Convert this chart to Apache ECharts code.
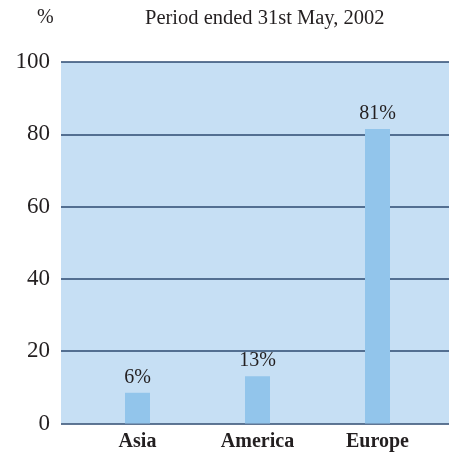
<!DOCTYPE html>
<html>
<head>
<meta charset="utf-8">
<script src="https://cdn.jsdelivr.net/npm/echarts@6/dist/echarts.min.js"></script>
<style>
html, body { margin: 0; padding: 0; background: #fff; }
.box { width: 449px; height: 454px; }
</style>
</head>
<body>
<div class="box"></div>
<script>
// data
var regions = ["Asia", "America", "Europe"];
var barHeights = [8.5, 13.1, 81.5];
var barLabels = ["6%", "13%", "81%"];
var yTicks = [0, 20, 40, 60, 80, 100];

(function () {
    var myChart = echarts.init(document.querySelector(".box"));
    var serif = "Liberation Serif";
    var ink = "#231f20";

    var option = {
        animation: false,
        title: [
            { text: "%", left: 32, top: 3, textStyle: { fontFamily: serif, fontSize: 20, fontWeight: "normal", color: ink } },
            { text: "Period ended 31st May, 2002", left: 140, top: 3, textStyle: { fontFamily: serif, fontSize: 20.5, fontWeight: "normal", color: ink } }
        ],
        grid: [
            // background + gridlines
            { left: 61, right: 0, top: 62, bottom: 30.5, show: true, backgroundColor: "#c6dff4", borderWidth: 0 },
            // bars
            { left: 77.5, width: 360, top: 62, bottom: 30.5 }
        ],
        xAxis: [
            { gridIndex: 0, type: "value", show: false, min: 0, max: 1 },
            {
                gridIndex: 1, type: "category", data: regions,
                axisLine: { show: false }, axisTick: { show: false },
                axisLabel: { fontFamily: serif, fontSize: 20, fontWeight: "bold", color: ink, margin: 8 }
            }
        ],
        yAxis: [
            {
                gridIndex: 0, type: "value", min: yTicks[0], max: yTicks[yTicks.length - 1], interval: 20,
                axisLine: { show: false }, axisTick: { show: false },
                axisLabel: { fontFamily: serif, fontSize: 23, color: ink, margin: 11 },
                splitLine: { lineStyle: { color: "#2d4a70", width: 1.5 } }
            },
            { gridIndex: 1, type: "value", min: 0, max: 100, show: false, splitLine: { show: false } }
        ],
        series: [
            {
                type: "bar", xAxisIndex: 1, yAxisIndex: 1, data: barHeights, barWidth: 25,
                itemStyle: { color: "#92c5eb" },
                label: {
                    show: true, position: "top", distance: 5,
                    fontFamily: serif, fontSize: 20, color: ink,
                    formatter: function (p) { return barLabels[p.dataIndex]; }
                }
            }
        ]
    };

    myChart.setOption(option);
    window.addEventListener("resize", function () {
        myChart.resize();
    });
})();
</script>
</body>
</html>
